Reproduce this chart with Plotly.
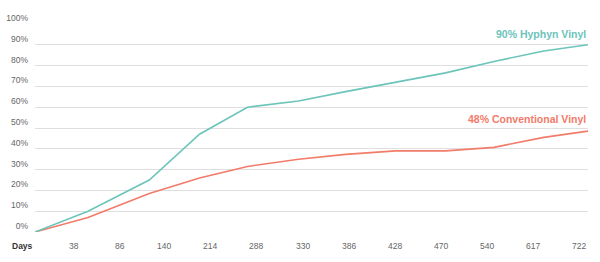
import plotly.graph_objects as go

# data (x in tick-slot units: 0 = origin, 12 = last tick "722")
x_pos = [0, 1.15, 2.48, 3.57, 4.61, 5.72, 6.74, 7.83, 8.91, 9.96, 11.04, 12]
hyphyn = [0, 10, 25, 47, 60, 63, 67.5, 72, 76.5, 82, 87, 90]
conventional = [0, 7, 18.5, 26, 31.5, 35, 37.3, 39, 39, 40.7, 45.5, 48.5]
x_labels = ["Days", "38", "86", "140", "214", "288", "330", "386", "428", "470", "540", "617", "722"]
y_ticks = list(range(0, 101, 10))

TEAL = "#6cc4bb"
CORAL = "#f27b69"
FONT = "Liberation Sans"

fig = go.Figure()
fig.add_trace(go.Scatter(x=x_pos, y=conventional, mode="lines",
                         line=dict(color=CORAL, width=1.6), hoverinfo="skip"))
fig.add_trace(go.Scatter(x=x_pos, y=hyphyn, mode="lines",
                         line=dict(color=TEAL, width=1.6), hoverinfo="skip"))

for i, lab in enumerate(x_labels):
    fig.add_annotation(x=i, y=0, xref="x", yref="paper", text=lab, showarrow=False,
                       xanchor="right", yanchor="middle", yshift=-14,
                       font=dict(family=FONT, size=8.5,
                                 color="#333" if i == 0 else "#666",
                                 weight="bold" if i == 0 else "normal"))

fig.add_annotation(x=12, y=hyphyn[-1], xref="x", yref="y", text="<b>90% Hyphyn Vinyl</b>",
                   showarrow=False, xanchor="right", yanchor="middle", yshift=11,
                   font=dict(family=FONT, size=10.5, color=TEAL))
fig.add_annotation(x=12, y=conventional[-1], xref="x", yref="y", text="<b>48% Conventional Vinyl</b>",
                   showarrow=False, xanchor="right", yanchor="middle", yshift=12,
                   font=dict(family=FONT, size=10.5, color=CORAL))

fig.update_layout(
    width=600, height=262,
    margin=dict(l=35, r=12, t=24, b=30, autoexpand=False),
    paper_bgcolor="white", plot_bgcolor="white",
    showlegend=False,
    xaxis=dict(range=[0, 12], showgrid=False, zeroline=False, showticklabels=False,
               showline=False, fixedrange=True, automargin=False),
    yaxis=dict(range=[0, 100], tickvals=y_ticks, ticktext=[f"{v}%" for v in y_ticks],
               showgrid=True, gridcolor="#dfdfdf", gridwidth=1, zeroline=False,
               showline=False, ticks="", ticklabelposition="outside top",
               ticklabelstandoff=6, automargin=False,
               tickfont=dict(family=FONT, size=8.5, color="#666"), fixedrange=True),
)

fig.write_html("out.html")
